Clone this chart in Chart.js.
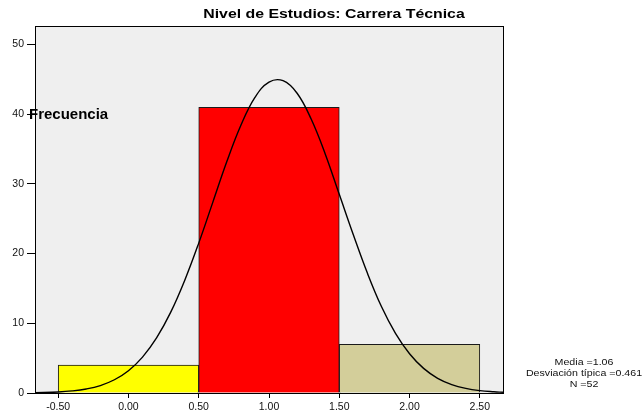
<!DOCTYPE html>
<html lang="es">
<head>
    <meta charset="UTF-8">
    <title>Nivel de Estudios: Carrera Técnica</title>
    <script src="https://cdn.jsdelivr.net/npm/chart.js"></script>
    <style>
        body { margin: 0; background: #ffffff; }
        #caja { width: 642px; height: 419px; }
    </style>
</head>
<body>
    <div id="caja">
        <canvas id="histograma" width="642" height="419"></canvas>
    </div>

<script>
    // datos del histograma (centro de cada intervalo y frecuencia)
    const centros = [0, 1, 2];
    const frecuencias = [4, 41, 7];
    const coloresBarras = ['#FFFF00', '#FF0000', '#D3CE9A'];

    // curva normal
    const curvaX = [-0.665, -0.5, -0.4, -0.3, -0.2, -0.1, 0.0, 0.1, 0.2, 0.3, 0.4, 0.5, 0.6, 0.7, 0.8, 0.9, 1.0,
        1.1, 1.2, 1.3, 1.4, 1.5, 1.6, 1.7, 1.8, 1.9, 2.0, 2.1, 2.2, 2.3, 2.4, 2.5, 2.6, 2.665];
    const curvaY = [0.05, 0.15, 0.3, 0.58, 1.07, 1.9, 3.2, 5.15, 7.9, 11.56, 16.15, 21.5, 27.35, 33.2, 38.4, 42.4, 44.6,
        44.8, 43.0, 39.3, 34.3, 28.5, 22.7, 17.2, 12.4, 8.55, 5.63, 3.53, 2.11, 1.21, 0.66, 0.34, 0.17, 0.1];

    const ticksX = [-0.5, 0, 0.5, 1, 1.5, 2, 2.5];
    const ticksY = [0, 10, 20, 30, 40, 50];

    const titulo = 'Nivel de Estudios: Carrera Técnica';
    const tituloEje = 'Frecuencia';
    const estadisticos = ['Media =1.06', 'Desviación típica =0.461', 'N =52'];

    const fuente = "'Liberation Sans', Arial, sans-serif";

    const datosBarras = centros.map(function (c, i) { return { x: c, y: frecuencias[i] }; });
    const datosCurva = curvaX.map(function (x, i) { return { x: x, y: curvaY[i] }; });

    function textoEstirado(ctx, texto, x, y, escala) {
        ctx.save();
        ctx.translate(x, y);
        ctx.scale(escala, 1);
        ctx.fillText(texto, 0, 0);
        ctx.restore();
    }

    const fondoYTextos = {
        id: 'fondoYTextos',
        beforeDatasetsDraw: function (chart) {
            const a = chart.chartArea;
            const ctx = chart.ctx;
            ctx.save();
            ctx.fillStyle = '#EFEFEF';
            ctx.fillRect(a.left, a.top, a.right - a.left, a.bottom - a.top);
            ctx.restore();
        },
        afterDraw: function (chart) {
            const a = chart.chartArea;
            const ctx = chart.ctx;
            ctx.save();
            ctx.strokeStyle = '#000000';
            ctx.lineWidth = 1;
            ctx.strokeRect(Math.round(a.left) + 0.5, Math.round(a.top) + 0.5,
                Math.round(a.right - a.left), Math.round(a.bottom - a.top));

            ctx.fillStyle = '#000000';
            ctx.textBaseline = 'middle';
            ctx.textAlign = 'center';
            ctx.font = 'bold 12px ' + fuente;
            textoEstirado(ctx, titulo, 334, 15, 1.32);

            ctx.textAlign = 'left';
            ctx.font = 'bold 15px ' + fuente;
            ctx.fillText(tituloEje, 29, 115);

            ctx.textAlign = 'center';
            ctx.fillStyle = '#111111';
            ctx.font = '9.5px ' + fuente;
            for (let i = 0; i < estadisticos.length; i++) {
                textoEstirado(ctx, estadisticos[i], 584, 362 + i * 11, 1.12);
            }
            ctx.restore();
        }
    };

    const config = {
        data: {
            datasets: [
                {
                    type: 'line',
                    data: datosCurva,
                    borderColor: '#000000',
                    borderWidth: 1.4,
                    pointRadius: 0,
                    tension: 0.4,
                    fill: false,
                    order: 0
                },
                {
                    type: 'bar',
                    data: datosBarras,
                    backgroundColor: coloresBarras,
                    borderColor: '#1a1a1a',
                    borderWidth: 1,
                    barThickness: 'flex',
                    barPercentage: 1,
                    categoryPercentage: 1,
                    order: 1
                }
            ]
        },
        options: {
            responsive: false,
            animation: false,
            layout: { padding: { top: 26, right: 139, left: 0, bottom: 0 } },
            plugins: {
                legend: { display: false },
                tooltip: { enabled: false }
            },
            scales: {
                x: {
                    type: 'linear',
                    min: -0.665,
                    max: 2.665,
                    offset: false,
                    afterBuildTicks: function (escala) {
                        escala.ticks = ticksX.map(function (v) { return { value: v }; });
                    },
                    afterFit: function (escala) { escala.height = 26; },
                    ticks: {
                        color: '#111111',
                        font: { family: fuente, size: 10.5 },
                        padding: 3,
                        maxRotation: 0,
                        autoSkip: false,
                        callback: function (v) { return Number(v).toFixed(2); }
                    },
                    grid: { offset: false, drawOnChartArea: false, drawTicks: true, tickLength: 5, color: '#000000' },
                    border: { display: true, color: '#000000', width: 1 }
                },
                y: {
                    min: 0,
                    max: 52.65,
                    afterBuildTicks: function (escala) {
                        escala.ticks = ticksY.map(function (v) { return { value: v }; });
                    },
                    afterFit: function (escala) { escala.width = 35; },
                    ticks: {
                        color: '#111111',
                        font: { family: fuente, size: 10.5 },
                        padding: 3
                    },
                    grid: { drawOnChartArea: false, drawTicks: true, tickLength: 8, color: '#000000' },
                    border: { display: true, color: '#000000', width: 1 }
                }
            }
        },
        plugins: [fondoYTextos]
    };

    new Chart(document.getElementById('histograma'), config);
</script>
</body>
</html>
